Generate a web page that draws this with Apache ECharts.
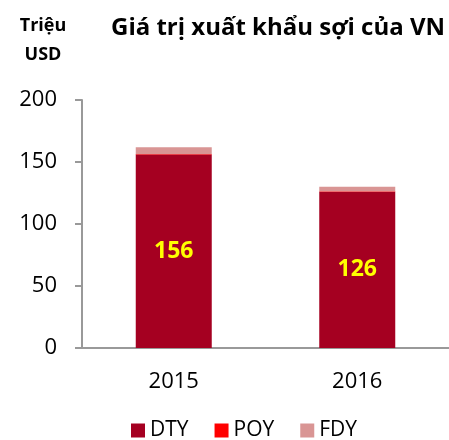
<!DOCTYPE html>
<html>
<head>
    <meta charset="utf-8">
    <title>ECharts</title>
    <script src="https://cdn.jsdelivr.net/npm/echarts@6/dist/echarts.min.js"></script>
    <style>
        body { margin: 0; }
    </style>
</head>
<body>
    <div id="main" style="width: 449px;height:440px;"></div>
    <script type="text/javascript">
        var years = ['2015', '2016'];
        var dty = [156, 126];
        var poy = [0.4, 0.4];
        var fdy = [5.5, 3.6];

        var font = 'Open Sans';
        var myChart = echarts.init(document.getElementById('main'));

        option = {
            animation: false,
            title: [{
                text: 'Giá trị xuất khẩu sợi của VN',
                left: 106,
                top: 11,
                textStyle: { fontFamily: font, fontSize: 24, fontWeight: 'bold', color: '#000' }
            }, {
                text: 'Triệu\nUSD',
                left: 38,
                top: 6,
                textAlign: 'center',
                textStyle: { fontFamily: font, fontSize: 18, fontWeight: 'bold', color: '#000', lineHeight: 29 }
            }],
            legend: {
                bottom: -6,
                left: 126,
                icon: 'rect',
                itemWidth: 14,
                itemHeight: 14,
                itemGap: 26,
                textStyle: { fontFamily: font, fontSize: 21, color: '#000' },
                data: ['DTY', 'POY', 'FDY']
            },
            grid: { left: 82, top: 100, bottom: 92, right: -13 },
            xAxis: {
                type: 'category',
                data: years,
                axisLine: { lineStyle: { color: '#999', width: 2 } },
                axisTick: { length: 7, lineStyle: { color: '#999', width: 2 } },
                axisLabel: { fontFamily: font, fontSize: 22, color: '#000', margin: 23 }
            },
            yAxis: {
                type: 'value',
                min: 0,
                max: 200,
                interval: 50,
                axisLine: { show: true, lineStyle: { color: '#999', width: 2 } },
                axisTick: { show: true, length: 7, lineStyle: { color: '#999', width: 2 } },
                splitLine: { show: false },
                axisLabel: { fontFamily: font, fontSize: 22, color: '#000', margin: 25 }
            },
            series: [{
                name: 'DTY',
                type: 'bar',
                stack: 'a',
                barWidth: 76,
                data: dty,
                itemStyle: { color: '#A50021' },
                label: {
                    show: true,
                    position: 'inside',
                    fontFamily: font,
                    fontSize: 23,
                    fontWeight: 'bold',
                    color: '#FFFF00'
                }
            }, {
                name: 'POY',
                type: 'bar',
                stack: 'a',
                data: poy,
                itemStyle: { color: '#FF0000' }
            }, {
                name: 'FDY',
                type: 'bar',
                stack: 'a',
                data: fdy,
                itemStyle: { color: '#D99594' }
            }]
        };

        myChart.setOption(option);
    </script>
</body>
</html>
